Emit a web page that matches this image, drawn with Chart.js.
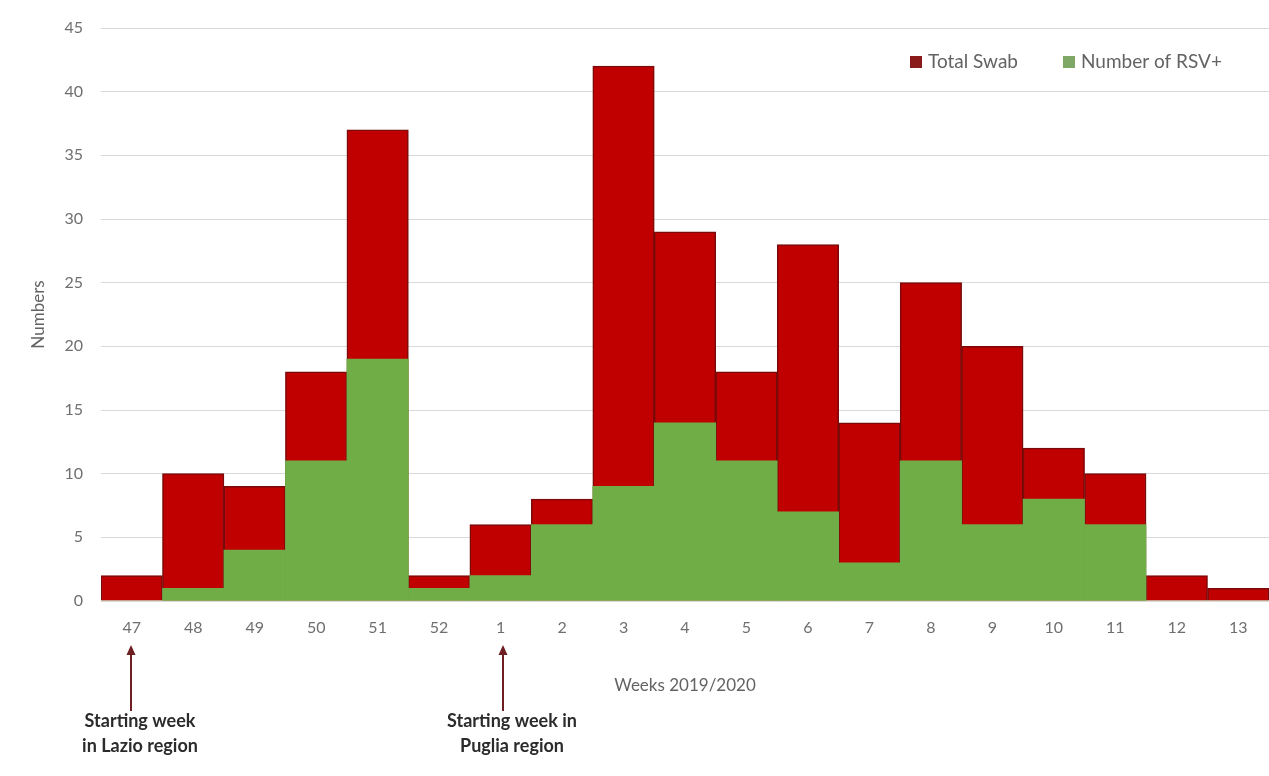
<!DOCTYPE html>
<html>
<head>
<meta charset="utf-8">
<script src="https://cdn.jsdelivr.net/npm/chart.js@4"></script>
<style>
  html, body { margin: 0; padding: 0; background: #ffffff; }
  #wrap { width: 1269px; height: 776px; position: relative; }
</style>
</head>
<body>
<div id="wrap"><canvas id="c" width="1269" height="776"></canvas></div>
<script>
// Weekly swab counts, season 2019/2020
const weeks = ['47', '48', '49', '50', '51', '52', '1', '2', '3', '4', '5', '6', '7', '8', '9', '10', '11', '12', '13'];
const totalSwab = [2, 10, 9, 18, 37, 2, 6, 8, 42, 29, 18, 28, 14, 25, 20, 12, 10, 2, 1];
const rsvPositive = [0, 1, 4, 11, 19, 1, 2, 6, 9, 14, 11, 7, 3, 11, 6, 8, 6, 0, 0];
const yTicks = [0, 5, 10, 15, 20, 25, 30, 35, 40, 45];
const seriesNames = ['Total Swab', 'Number of RSV+'];
const startNotes = [
  { week: '47', lines: ['Starting week', 'in Lazio region'] },
  { week: '1', lines: ['Starting week in', 'Puglia region'] }
];

const RED = '#C00000';
const RED_EDGE = '#7A0A0A';
const GREEN = '#70AD47';
const TEXT = '#6f6f6f';
const FONT = 'Lato, "Open Sans", "DejaVu Sans", sans-serif';

// Legend drawn inside the plot, top right
const insideLegend = {
  id: 'insideLegend',
  afterDraw(chart) {
    const ctx = chart.ctx;
    const area = chart.chartArea;
    const y = area.top + 34;
    let x = area.right - 359;
    ctx.save();
    ctx.font = '19px ' + FONT;
    ctx.textBaseline = 'middle';
    chart.data.datasets.forEach((ds) => {
      ctx.fillStyle = ds.legendSwatch;
      ctx.fillRect(x, y - 6, 12, 12);
      ctx.fillStyle = '#636363';
      ctx.fillText(ds.label, x + 18, y);
      x += 18 + ctx.measureText(ds.label).width + 45;
    });
    ctx.restore();
  }
};

// Arrows marking the first surveillance week in each region
const startArrows = {
  id: 'startArrows',
  afterDraw(chart) {
    const ctx = chart.ctx;
    const xs = chart.scales.x;
    ctx.save();
    startNotes.forEach((note) => {
      const idx = weeks.indexOf(note.week);
      const px = Math.round(xs.getPixelForValue(idx)) - 1 + (idx > 0 ? 3 : 0);
      const tipY = 645, baseY = 711;
      ctx.strokeStyle = '#6E1F22';
      ctx.fillStyle = '#6E1F22';
      ctx.lineWidth = 2;
      ctx.beginPath();
      ctx.moveTo(px, baseY);
      ctx.lineTo(px, tipY + 8);
      ctx.stroke();
      ctx.beginPath();
      ctx.moveTo(px, tipY);
      ctx.lineTo(px - 4.5, tipY + 10);
      ctx.lineTo(px + 4.5, tipY + 10);
      ctx.closePath();
      ctx.fill();
      ctx.font = 'bold 18px ' + FONT;
      ctx.fillStyle = '#2b2b2b';
      ctx.textAlign = 'center';
      ctx.textBaseline = 'middle';
      note.lines.forEach((line, i) => {
        ctx.fillText(line, px + 9, 721 + i * 25);
      });
    });
    ctx.restore();
  }
};

new Chart(document.getElementById('c'), {
  type: 'bar',
  data: {
    labels: weeks,
    datasets: [
      {
        label: seriesNames[0],
        data: totalSwab,
        backgroundColor: RED,
        borderColor: RED_EDGE,
        borderWidth: 1.5,
        legendSwatch: '#8B1A1A',
        grouped: false,
        order: 2,
        categoryPercentage: 1,
        barPercentage: 1
      },
      {
        label: seriesNames[1],
        data: rsvPositive,
        backgroundColor: GREEN,
        borderWidth: 0,
        legendSwatch: '#7FA866',
        grouped: false,
        order: 1,
        categoryPercentage: 1,
        barPercentage: 1
      }
    ]
  },
  options: {
    responsive: false,
    animation: false,
    layout: { padding: { top: 28, right: 0, bottom: 0, left: 0 } },
    plugins: {
      legend: { display: false },
      tooltip: { enabled: false }
    },
    scales: {
      x: {
        grid: { display: false, drawTicks: false },
        border: { display: true, color: '#d9d9d9' },
        ticks: {
          color: TEXT,
          font: { family: FONT, size: 16 },
          padding: 17,
          maxRotation: 0,
          autoSkip: false
        },
        title: {
          display: true,
          text: 'Weeks 2019/2020',
          color: '#636363',
          font: { family: FONT, size: 17 },
          padding: { top: 0, bottom: 80 }
        },
        afterFit(scale) { scale.height = 175; }
      },
      y: {
        min: 0,
        max: 45,
        afterBuildTicks(scale) { scale.ticks = yTicks.map(v => ({ value: v })); },
        grid: { color: '#d9d9d9', lineWidth: 1, drawTicks: false },
        border: { display: false },
        ticks: {
          color: TEXT,
          font: { family: FONT, size: 16 },
          padding: 18
        },
        title: {
          display: true,
          text: 'Numbers',
          color: '#636363',
          font: { family: FONT, size: 17 },
          padding: { top: 28, bottom: 0 }
        },
        afterFit(scale) { scale.width = 101; }
      }
    }
  },
  plugins: [insideLegend, startArrows]
});
</script>
</body>
</html>
